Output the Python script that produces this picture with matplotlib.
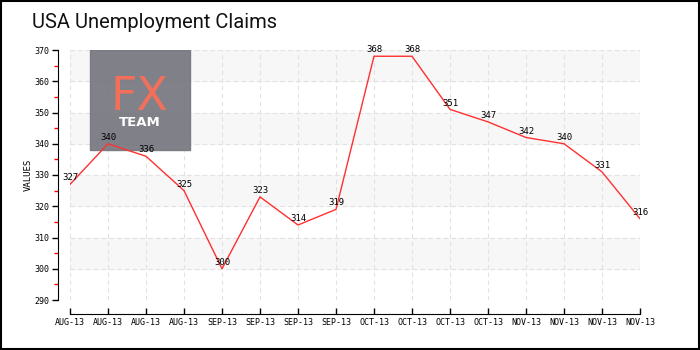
import matplotlib
matplotlib.use("Agg")
import matplotlib.pyplot as plt
from matplotlib.patches import Rectangle
from matplotlib.ticker import MultipleLocator

months = ["AUG-13"] * 4 + ["SEP-13"] * 4 + ["OCT-13"] * 4 + ["NOV-13"] * 4
claims = [327, 340, 336, 325, 300, 323, 314, 319, 368, 368, 351, 347, 342, 340, 331, 316]

plt.rcParams["font.family"] = "DejaVu Sans Mono"

fig = plt.figure(figsize=(7, 3.5), dpi=100)
fig.patches.append(Rectangle((0.001, 0.002), 0.997, 0.995, transform=fig.transFigure,
                             fill=False, edgecolor="black", linewidth=1.5))
fig.text(0.046, 0.935, "USA Unemployment Claims", fontsize=14.5, family="Roboto",
         va="center", ha="left", color="#111111")

ax = fig.add_axes([70 / 700, 50 / 350, 570 / 700, 250 / 350])
x = list(range(len(claims)))

# alternating bands
for lo in range(300, 370, 20):
    ax.axhspan(lo, lo + 10, color="#f7f7f7", zorder=0)

# logo sits behind the line, slightly see-through
ax.add_patch(Rectangle((90 / 700, 1 - 150 / 350), 100 / 700, 100 / 350,
                       transform=fig.transFigure, color="#76767f", alpha=0.92,
                       zorder=1))
ax.text(139 / 700, 1 - 110 / 350, "FX", fontsize=33, color="#f2705a", ha="center",
        va="baseline", family="DejaVu Sans", transform=fig.transFigure, zorder=1.5)
ax.text(140 / 700, 1 - 123 / 350, "TEAM", fontsize=9.5, color="white", ha="center",
        va="center", family="DejaVu Sans", fontweight="bold",
        transform=fig.transFigure, zorder=1.5)

ax.plot(x, claims, color="#ff3030", linewidth=1.0, zorder=3)
for xi, v in zip(x, claims):
    ax.text(xi, v + 0.6, str(v), fontsize=6.5, ha="center", va="bottom", zorder=4)

ax.set_xlim(0, len(claims) - 1)
ax.set_ylim(290, 370)
ax.set_xticks(x)
ax.set_xticklabels(months)
ax.yaxis.set_major_locator(MultipleLocator(10))
ax.yaxis.set_minor_locator(MultipleLocator(5))
ax.tick_params(axis="y", which="major", labelsize=6, length=4, width=1, pad=2)
ax.tick_params(axis="y", which="minor", length=3, width=1, color="red")
ax.tick_params(axis="x", which="major", labelsize=6, length=4, width=1,
               direction="in", pad=3)

ax.grid(True, which="major", color="#e2e2e2", linestyle=(0, (4, 3)), linewidth=0.8)
ax.set_axisbelow(True)
for s in ("top", "right"):
    ax.spines[s].set_visible(False)
ax.spines["left"].set_position(("outward", 9))
ax.spines["bottom"].set_position(("outward", 10))
ax.set_ylabel("VALUES", fontsize=6.5)
ax.yaxis.set_label_coords(-0.066, 0.5)

fig.savefig("out.png", dpi=100)
